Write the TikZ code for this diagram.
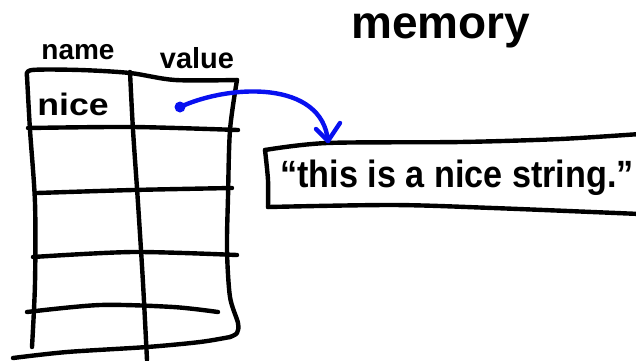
\documentclass[tikz,border=0pt]{standalone}
\usepackage{graphicx}
\usepackage{fontspec}
\setmainfont{Liberation Sans}
\definecolor{arrowblue}{RGB}{8,16,240}
\begin{document}
\begin{tikzpicture}[x=1pt,y=-1pt,
  ink/.style={line width=4.4pt, line cap=round, line join=round},
  pen/.style={ink, draw=black},
  bluepen/.style={ink, draw=arrowblue},
  lbl/.style={inner sep=0pt, font=\bfseries}]
\useasboundingbox (0,0) rectangle (636,360);
\clip (0,0) rectangle (636,360);

% table: outline, column divider and row lines
\draw[pen] plot[smooth] coordinates {(27,76) (32,70) (80,70) (130,73) (175,80) (237,80)};
\draw[pen] plot[smooth] coordinates {(27,76) (30,130) (35,203) (35,283) (32,347)};
\draw[pen] plot[smooth] coordinates {(130,72) (133,130) (138,203) (143,283) (147,360)};
\draw[pen] plot[smooth] coordinates {(237,80) (230,130) (228,197) (227,250) (230,297) (238,323) (237,333) (230,337)};
\draw[pen] plot[smooth] coordinates {(13,358) (67,352) (147,347) (200,342) (230,337)};
\draw[pen] plot[smooth] coordinates {(28,128) (133,127) (238,130)};
\draw[pen] plot[smooth] coordinates {(37,193) (133,190) (232,188)};
\draw[pen] plot[smooth] coordinates {(33,257) (133,252) (237,255)};
\draw[pen] plot[smooth] coordinates {(27,312) (100,305) (173,307) (218,312)};

% column headings and the stored name
\node[lbl, font=\bfseries\fontsize{28}{28}\selectfont] (hname) at (78,52) {name};
\node[lbl, font=\bfseries\fontsize{29}{29}\selectfont] (hvalue) at (197,58) {value};
\node[lbl, font=\bfseries\fontsize{31}{31}\selectfont] (cname) at (73,104) {\scalebox{1.15}[1]{nice}};

% memory region
\node[lbl, font=\bfseries\fontsize{46}{46}\selectfont] (mem) at (441,31) {memory};

% string object in memory
\draw[pen] plot[smooth] coordinates {(265,150) (327,143) (460,142) (560,139) (640,134)};
\draw[pen] plot[smooth] coordinates {(265,150) (268,180) (268,207)};
\draw[pen] plot[smooth] coordinates {(268,207) (393,205) (493,208) (640,214)};
\node[lbl, anchor=west, font=\bfseries\fontsize{38}{38}\selectfont] (str) at (280,178) {\scalebox{0.9}[1]{“this is a nice string.”}};

% pointer from the value cell to the string
\node[circle, fill=arrowblue, minimum size=11pt, inner sep=0pt] (dot) at (180,107) {};
\coordinate (tip) at (328,141);
\draw[bluepen] (dot.center) .. controls (230,84) and (322,80) .. (tip);
\draw[bluepen] (316,129) -- (tip) -- (340,123);
\end{tikzpicture}
\end{document}
